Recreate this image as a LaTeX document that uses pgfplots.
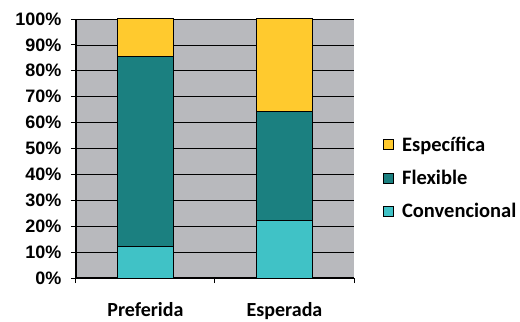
\documentclass[border=0pt]{standalone}
\usepackage{fontspec}
\setmainfont{Carlito}
\newfontfamily\arialfont{Liberation Sans}
\usepackage{pgfplots}
\pgfplotsset{compat=1.18}
\definecolor{cconv}{HTML}{40C2C6}
\definecolor{cflex}{HTML}{1B8080}
\definecolor{cesp}{HTML}{FFCA2E}
\definecolor{plotgray}{HTML}{B8B9BD}
\pgfplotsset{sq/.style={legend image code/.code={\draw[##1,line width=1bp] (0bp,-5bp) rectangle (10bp,5bp); \path (16bp,0bp);}}}
\begin{document}
\begin{tikzpicture}
\path[use as bounding box] (-76bp,-44bp) rectangle (444bp,278bp);
\begin{axis}[
  at={(0,0)}, anchor=south west,
  scale only axis, width=278bp, height=259bp,
  ybar stacked, bar width=56bp,
  xmin=-0.5, xmax=1.5, ymin=0, ymax=100,
  axis background/.style={fill=plotgray},
  axis x line*=bottom, axis y line*=left,
  axis line style={-, black, line width=1.3bp},
  ytick={0,10,...,100},
  yticklabel={\pgfmathprintnumber{\tick}\%},
  yticklabel style={font=\fontsize{18bp}{20bp}\arialfont\bfseries, xshift=-6bp},
  /pgf/number format/assume math mode=true,
  ymajorgrids, grid style={black, line width=0.6bp},
  tick align=outside,
  y tick style={black, line width=0.8bp}, 
  major tick length=5bp,
  xtick={-0.5,0.5,1.5}, xticklabels={},
  x tick style={black, line width=1bp},
  extra x ticks={0,1},
  extra x tick labels={Preferida,Esperada},
  extra x tick style={major tick length=0pt, grid=none, xticklabel style={font=\fontsize{20bp}{23bp}\selectfont\bfseries, yshift=-21bp}},
  legend style={at={(1.104,0.386)}, anchor=west, draw=none, fill=none, inner sep=0pt,
    font=\fontsize{20.5bp}{24bp}\selectfont\bfseries, row sep=13.5bp, legend cell align=left},
  reverse legend,
]
\addplot[fill=cconv, draw=black, line width=1bp, sq] coordinates {(0,12.2) (1,22.1)};
\addplot[fill=cflex, draw=black, line width=1bp, sq] coordinates {(0,73.5) (1,42.0)};
\addplot[fill=cesp, draw=black, line width=1bp, sq] coordinates {(0,14.3) (1,35.9)};
\legend{Convencional,Flexible,Específica}
\end{axis}
\end{tikzpicture}
\end{document}
